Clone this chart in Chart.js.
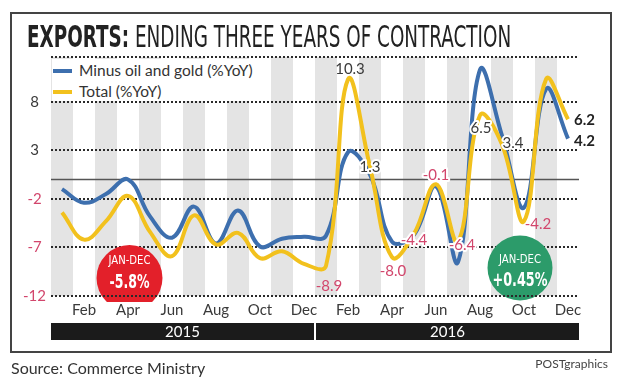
<!DOCTYPE html>
<html>
<head>
<meta charset="utf-8">
<script src="https://cdn.jsdelivr.net/npm/chart.js@4.4.1/dist/chart.umd.min.js"></script>
<style>
  html, body { margin: 0; padding: 0; background: #fff; }
  body { width: 620px; height: 380px; position: relative; overflow: hidden; font-family: Lato, "Open Sans", sans-serif; color: #333; }
  #frame { position: absolute; left: 10px; top: 12px; width: 598px; height: 337px; border: 2px solid #444; }
  #chart { position: absolute; left: 0; top: 0; }
  #title { position: absolute; left: 27px; top: 21px; font-family: "Liberation Sans Narrow", "DejaVu Sans Condensed", sans-serif; font-size: 30px; line-height: 32px; color: #222; white-space: nowrap; transform-origin: left top; }
  #title b { font-weight: 700; }
  #legend { position: absolute; left: 52px; top: 59px; width: 214px; height: 42px; background: #fff; font-size: 15.5px; color: #333; }
  .item { position: absolute; left: 0; height: 20px; line-height: 20px; white-space: nowrap; }
  .item i { display: inline-block; width: 19px; height: 3.5px; margin: 0 7px 0 1px; vertical-align: middle; position: relative; top: -1px; }
  #source { position: absolute; left: 11px; top: 358px; font-size: 16px; color: #333; }
  #credit { position: absolute; right: 12px; top: 356px; font-size: 12px; color: #444; }
</style>
</head>
<body>
<div id="frame"></div>
<canvas id="chart" width="620" height="380"></canvas>
<div id="title"><b>EXPORTS:</b> ENDING THREE YEARS OF CONTRACTION</div>
<div id="legend">
  <div class="item" style="top:1px"><i style="background:#3d6fae"></i>Minus oil and gold (%YoY)</div>
  <div class="item" style="top:22px"><i style="background:#f2c11d"></i>Total (%YoY)</div>
</div>
<div id="source">Source: Commerce Ministry</div>
<div id="credit">POSTgraphics</div>
<script>
const months = ["Jan", "Feb", "Mar", "Apr", "May", "Jun", "Jul", "Aug", "Sep", "Oct", "Nov", "Dec",
  "Jan", "Feb", "Mar", "Apr", "May", "Jun", "Jul", "Aug", "Sep", "Oct", "Nov", "Dec"];
const years = ["2015", "2016"];
const minusOilGold = [-1.0, -2.4, -1.5, 0.0, -3.8, -6.0, -2.8, -6.6, -3.2, -6.9, -6.1, -5.9,
  -5.8, 2.8, 0.5, -6.4, -5.7, -0.7, -8.5, 11.3, 4.5, -2.9, 9.3, 4.2];
const total = [-3.4, -6.2, -4.3, -1.7, -5.4, -7.9, -3.7, -6.7, -5.5, -8.1, -7.4, -8.7,
  -8.9, 10.3, 1.3, -8.0, -5.6, -0.5, -6.4, 6.6, 3.6, -4.3, 10.3, 6.2];
const yTicks = [-12, -7, -2, 3, 8, 12.6];
const badges = [
  { title: "JAN-DEC", value: "-5.8%", color: "#e3202a" },
  { title: "JAN-DEC", value: "+0.45%", color: "#2c9b6a" }
];

const pink = "#d2466c";
const ink = "#3a3a3a";
const narrow = "'Liberation Sans Narrow', 'DejaVu Sans Condensed', sans-serif";

// text callouts: dataset, point, label text, offset, colour, white halo
const callouts = [
  { ds: 1, i: 12, text: "-8.9", dx: 3, dy: 20, color: pink },
  { ds: 1, i: 13, text: "10.3", dx: 2, dy: -10, color: ink },
  { ds: 1, i: 14, text: "1.3", dx: 0, dy: 0, color: ink, halo: true },
  { ds: 1, i: 15, text: "-8.0", dx: 1, dy: 14, color: pink },
  { ds: 1, i: 16, text: "-4.4", dx: 0, dy: 6, color: pink, halo: true },
  { ds: 1, i: 17, text: "-0.1", dx: 0, dy: -9, color: pink, halo: true },
  { ds: 1, i: 18, text: "-6.4", dx: 4, dy: 4, color: pink, halo: true },
  { ds: 1, i: 19, text: "6.5", dx: 1, dy: 13, color: ink, halo: true },
  { ds: 1, i: 20, text: "3.4", dx: 11, dy: -1, color: ink, halo: true },
  { ds: 1, i: 21, text: "-4.2", dx: 14, dy: 3, color: pink }
];

// draws text squeezed to a given width
function fitText(ctx, text, x, y, width) {
  const w = ctx.measureText(text).width;
  ctx.save();
  ctx.translate(x, y);
  ctx.scale(Math.min(1, width / w), 1);
  ctx.fillText(text, 0, 0);
  ctx.restore();
}

const decor = {
  id: "decor",
  beforeDraw(chart) {
    const { ctx, chartArea: a, scales: { x } } = chart;
    const half = (x.getPixelForValue(1) - x.getPixelForValue(0)) / 2;
    ctx.save();
    ctx.fillStyle = "#e4e4e4";
    months.forEach((m, i) => {
      if (i % 2) return;
      const cx = x.getPixelForValue(i);
      ctx.fillRect(cx - half, a.top, half * 2, a.bottom - a.top);
    });
    ctx.restore();
  },
  beforeDatasetsDraw(chart) {
    const { ctx, chartArea: a, scales: { y } } = chart;
    ctx.save();
    const zero = Math.round(y.getPixelForValue(0)) + 0.5;
    ctx.strokeStyle = "#555";
    ctx.lineWidth = 1.5;
    ctx.beginPath();
    ctx.moveTo(a.left, zero);
    ctx.lineTo(a.right, zero);
    ctx.stroke();

    ctx.beginPath();
    ctx.rect(0, 0, chart.width, a.bottom + 6);
    ctx.clip();
    const spots = [
      { cx: 129.5, cy: 278, r: 33, t: 261, v: 283, vw: 40 },
      { cx: 520, cy: 268, r: 32.5, t: 260, v: 281, vw: 55 }
    ];
    badges.forEach((b, k) => {
      const s = spots[k];
      ctx.fillStyle = b.color;
      ctx.beginPath();
      ctx.arc(s.cx, s.cy, s.r, 0, Math.PI * 2);
      ctx.fill();
      ctx.fillStyle = "#fff";
      ctx.textAlign = "center";
      ctx.textBaseline = "middle";
      ctx.font = "13px " + narrow;
      fitText(ctx, b.title, s.cx, s.t, 42);
      ctx.font = "bold 19px " + narrow;
      fitText(ctx, b.value, s.cx, s.v, s.vw);
    });
    const bottom = y.getPixelForValue(-12);
    ctx.strokeStyle = "#2a2a2a";
    ctx.lineWidth = 2;
    ctx.setLineDash([2, 2]);
    ctx.beginPath();
    ctx.moveTo(a.left, bottom);
    ctx.lineTo(a.right, bottom);
    ctx.stroke();
    ctx.restore();
  },
  afterDatasetsDraw(chart) {
    const { ctx } = chart;
    ctx.save();
    ctx.textAlign = "center";
    ctx.textBaseline = "middle";
    ctx.font = "15px Lato, sans-serif";
    callouts.forEach(c => {
      const p = chart.getDatasetMeta(c.ds).data[c.i];
      const px = p.x + c.dx, py = p.y + c.dy;
      if (c.halo) {
        ctx.strokeStyle = "#fff";
        ctx.lineWidth = 4;
        ctx.lineJoin = "round";
        ctx.strokeText(c.text, px, py);
      }
      ctx.fillStyle = c.color;
      ctx.fillText(c.text, px, py);
    });
    // end values
    ctx.textAlign = "left";
    ctx.font = "bold 15px Lato, sans-serif";
    ctx.fillStyle = "#222";
    const last = months.length - 1;
    const pt = chart.getDatasetMeta(1).data[last];
    const pb = chart.getDatasetMeta(0).data[last];
    ctx.fillText(total[last].toFixed(1), pt.x + 6, pt.y + 1);
    ctx.fillText(minusOilGold[last].toFixed(1), pb.x + 6, pb.y + 3);
    ctx.restore();
  },
  afterDraw(chart) {
    const { ctx, scales: { x } } = chart;
    const half = (x.getPixelForValue(1) - x.getPixelForValue(0)) / 2;
    ctx.save();
    years.forEach((yr, k) => {
      const left = x.getPixelForValue(k * 12) - half + (k ? 1 : 0);
      const right = x.getPixelForValue(k * 12 + 11) + half - (k ? 0 : 1);
      ctx.fillStyle = "#1b1b1b";
      ctx.fillRect(left, 323, right - left, 17);
      ctx.fillStyle = "#fff";
      ctx.font = "15px Lato, sans-serif";
      ctx.textAlign = "center";
      ctx.textBaseline = "middle";
      ctx.fillText(yr, (left + right) / 2, 332);
    });
    ctx.restore();
  }
};

new Chart(document.getElementById("chart"), {
  type: "line",
  data: {
    labels: months,
    datasets: [
      { label: "Minus oil and gold (%YoY)", data: minusOilGold, borderColor: "#3d6fae", borderWidth: 4, tension: 0.4, pointRadius: 0, order: 1 },
      { label: "Total (%YoY)", data: total, borderColor: "#f2c11d", borderWidth: 4, tension: 0.4, pointRadius: 0, order: 0 }
    ]
  },
  options: {
    responsive: false,
    animation: false,
    devicePixelRatio: 1,
    layout: { padding: { left: 11, right: 41, top: 57, bottom: 54 } },
    plugins: { legend: { display: false }, tooltip: { enabled: false } },
    scales: {
      x: {
        offset: true,
        grid: { display: false, drawTicks: false },
        border: { display: false },
        afterFit: scale => { scale.height = 30; },
        ticks: {
          autoSkip: false, maxRotation: 0, padding: 5, color: ink,
          font: { family: "Lato", size: 15 },
          callback: (v, i) => i % 2 ? months[i] : ""
        }
      },
      y: {
        min: -12,
        max: 12.6,
        afterFit: scale => { scale.width = 40; },
        afterBuildTicks: scale => { scale.ticks = yTicks.map(value => ({ value })); },
        grid: { color: "#2a2a2a", lineWidth: 2, drawTicks: false },
        border: { display: false, dash: [2, 2] },
        ticks: {
          padding: 5, crossAlign: "center",
          font: { family: "Lato", size: 15 },
          color: c => c.tick && c.tick.value < 0 ? pink : ink,
          callback: v => v > 12 ? "" : v
        }
      }
    }
  },
  plugins: [decor]
});

const title = document.getElementById("title");
title.style.transform = "scaleX(" + (484 / title.scrollWidth) + ")";
</script>
</body>
</html>
